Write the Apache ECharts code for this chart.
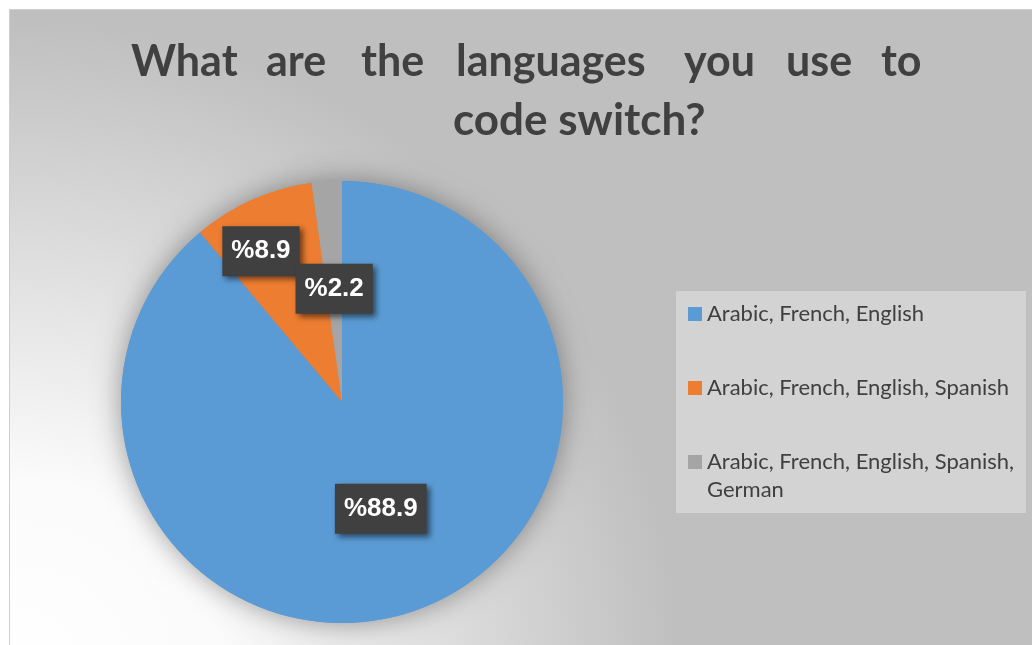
<!DOCTYPE html>
<html><head><meta charset="utf-8">
<script src="https://cdn.jsdelivr.net/npm/echarts@6/dist/echarts.min.js"></script>
<style>html,body{margin:0;padding:0;background:#fff}#c{width:1032px;height:645px}</style>
</head><body><div id="c"></div>
<script>
// ---- data ----
const categories = ['Arabic, French, English', 'Arabic, French, English, Spanish', 'Arabic, French, English, Spanish, German'];
const values = [88.9, 8.9, 2.2];
const colors = ['#5b9bd5', '#ed7d31', '#a5a5a5'];
const titleLine1 = ['What', 'are', 'the', 'languages', 'you', 'use', 'to'];
const titleLine2 = 'code switch?';

// ---- layout (justified title word slots) ----
const wordSlots = [135, 95, 95, 228, 102, 95, 40];
const TITLE_FONT = 'Lato, "Open Sans", sans-serif';
const BODY_FONT = 'Lato, "Open Sans", sans-serif';

const rich = {};
titleLine1.forEach((w, i) => {
  rich['w' + i] = { width: wordSlots[i], align: 'left', fontFamily: TITLE_FONT, fontWeight: 'bold', fontSize: 43, color: '#404040', lineHeight: 46 };
});
const line1Text = titleLine1.map((w, i) => '{w' + i + '|' + w + '}').join('');

const pieData = categories.map((n, i) => ({ name: n, value: values[i], itemStyle: { color: colors[i] } }));

const chart = echarts.init(document.getElementById('c'), null, { renderer: 'canvas' });
chart.setOption({
  animation: false,
  graphic: [
    {
      type: 'rect', z: -10, silent: true,
      shape: { x: 9.5, y: 9.5, width: 1030, height: 640 },
      style: {
        fill: {
          type: 'radial', x: 20, y: 680, r: 660, global: true,
          colorStops: [
            { offset: 0, color: '#ffffff' },
            { offset: 0.3, color: '#fbfbfb' },
            { offset: 0.55, color: '#e6e6e6' },
            { offset: 0.8, color: '#d0d0d0' },
            { offset: 1, color: '#bfbfbf' }
          ]
        },
        stroke: '#cfcfcf', lineWidth: 1
      }
    },
    {
      type: 'rect', z: -5, silent: true,
      shape: { x: 676, y: 291, width: 350, height: 222 },
      style: { fill: '#d3d3d3' }
    }
  ],
  title: [
    {
      text: line1Text, left: 131, top: 39, padding: 0,
      textStyle: { fontFamily: TITLE_FONT, fontWeight: 'bold', fontSize: 43, color: '#404040', lineHeight: 46, rich: rich }
    },
    {
      text: titleLine2, left: 453, top: 98, padding: 0,
      textStyle: { fontFamily: TITLE_FONT, fontWeight: 'bold', fontSize: 44, color: '#404040', lineHeight: 46 }
    }
  ],
  legend: [
    {
      data: categories.slice(0, 2), orient: 'vertical', left: 688, top: 300, padding: 0,
      itemWidth: 14, itemHeight: 14, itemGap: 46, icon: 'rect', selectedMode: false,
      textStyle: { fontFamily: BODY_FONT, fontSize: 22, color: '#404040', lineHeight: 28 }
    },
    {
      data: categories.slice(2), orient: 'vertical', left: 688, top: 420, padding: 0,
      itemWidth: 14, itemHeight: 14, icon: 'rect', selectedMode: false,
      formatter: n => '\n' + n.replace(', German', ',\nGerman'),
      textStyle: { fontFamily: BODY_FONT, fontSize: 22, color: '#404040', lineHeight: 28 }
    }
  ],
  series: [
    {
      // soft drop shadow behind the pie
      type: 'pie', z: 1, silent: true, legendHoverLink: false,
      center: [342, 402], radius: 221, startAngle: 90, clockwise: true,
      label: { show: false }, labelLine: { show: false }, emphasis: { disabled: true },
      itemStyle: { borderWidth: 0, shadowBlur: 28, shadowColor: 'rgba(0,0,0,0.38)' },
      data: pieData
    },
    {
      type: 'pie', z: 2,
      center: [342, 402], radius: 221, startAngle: 90, clockwise: true,
      avoidLabelOverlap: false, emphasis: { disabled: true },
      itemStyle: { borderWidth: 0 },
      label: {
        show: true, position: 'inside', formatter: '%{c}',
        fontFamily: '"Liberation Sans", Arial, sans-serif', fontWeight: 'bold', fontSize: 26, color: '#ffffff', lineHeight: 26,
        backgroundColor: '#404040', padding: [12, 9, 12, 9],
        shadowColor: 'rgba(0,0,0,0.55)', shadowBlur: 6, shadowOffsetX: 3, shadowOffsetY: 3
      },
      labelLine: { show: false },
      labelLayout: function (p) { return p.dataIndex === 1 ? { dx: -35, dy: -47 } : {}; },
      data: pieData
    }
  ]
});
</script>
</body></html>
